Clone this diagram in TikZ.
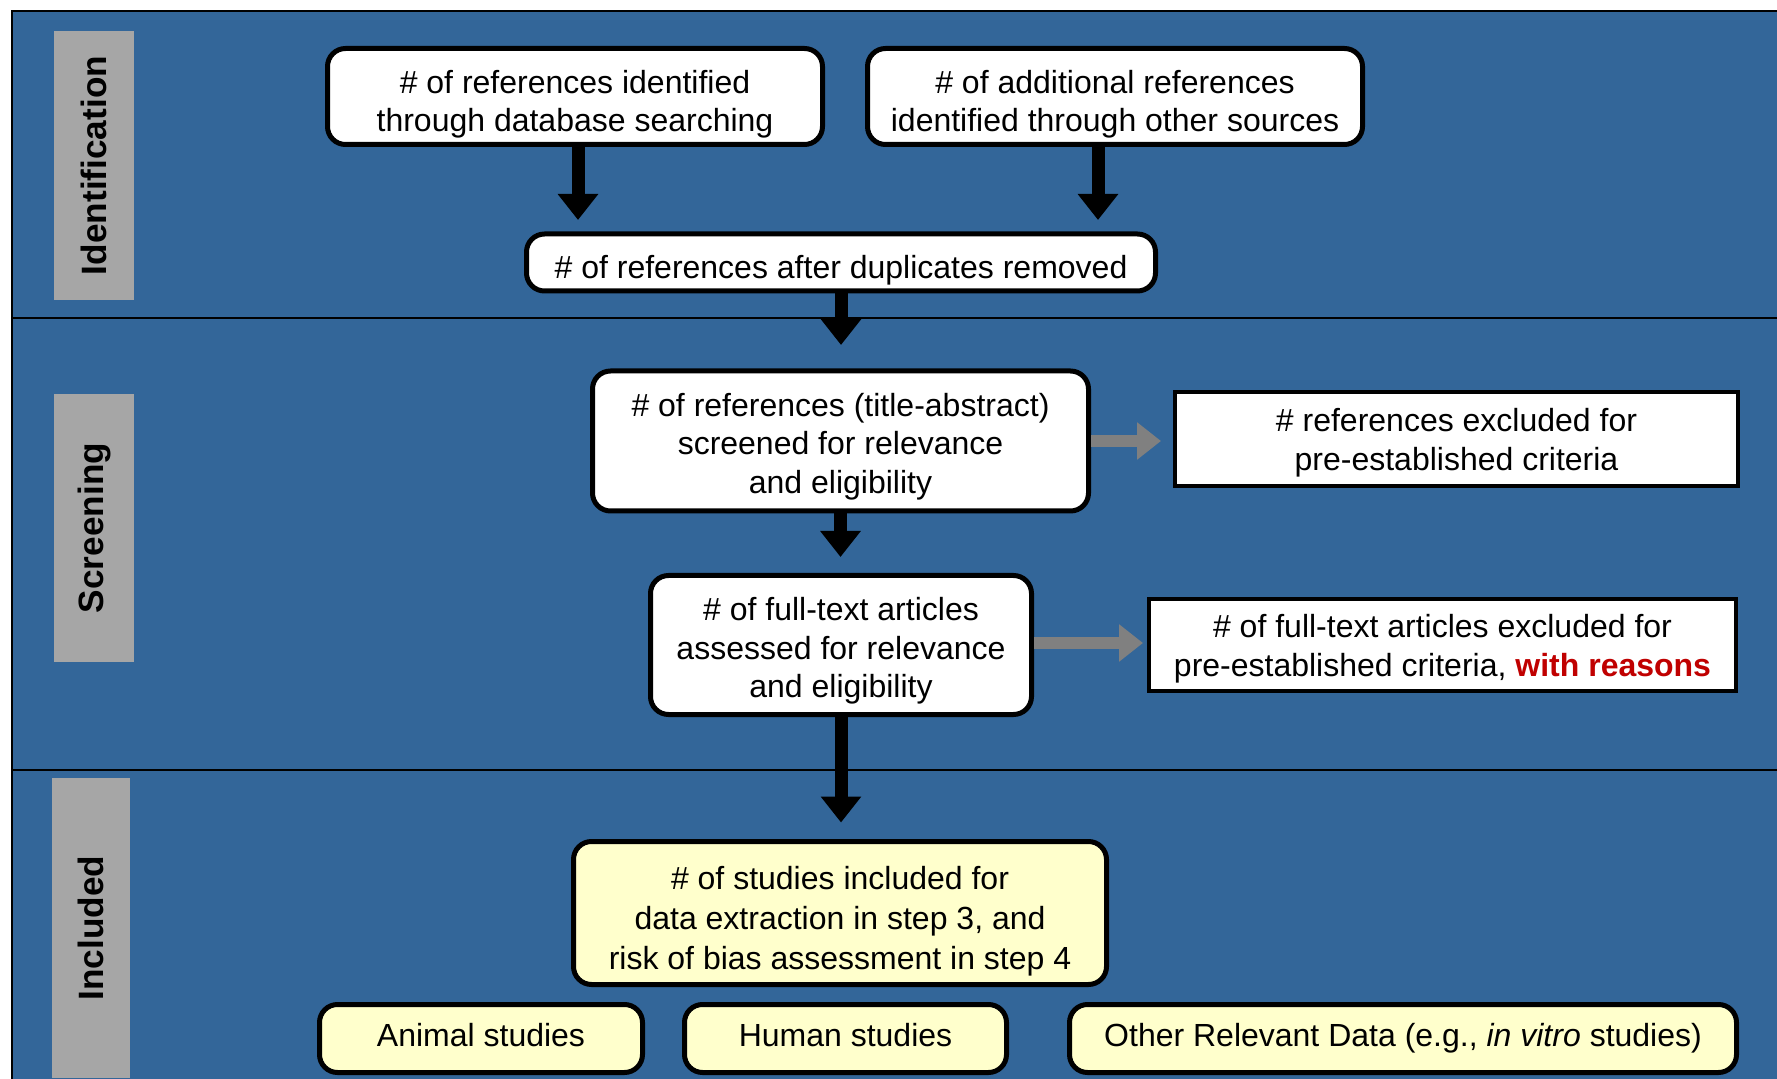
\documentclass[tikz,border=0pt]{standalone}
\usepackage{fontspec}
\setmainfont{Liberation Sans}
\usetikzlibrary{arrows.meta}
\definecolor{bgblue}{HTML}{336699}
\definecolor{lblgray}{HTML}{A6A6A6}
\definecolor{paleyellow}{HTML}{FFFFCC}
\definecolor{darkred}{HTML}{C00000}
\definecolor{arrgray}{HTML}{808080}
\newcommand\myTop{\rule{0pt}{18pt}}
\newcommand\hiTop{\rule{0pt}{20pt}}
\newcommand\sqTop{\rule{0pt}{16pt}}
\newcommand\myBot{\rule[-4pt]{0pt}{4pt}}
\begin{document}
\begin{tikzpicture}[x=0.5pt,y=-0.5pt,
  txt/.style={align=center, inner sep=0pt, font=\fontsize{16}{19.2}\selectfont},
  rbox/.style={txt, draw=black, line width=2.5pt, rounded corners=9pt, fill=white},
  ybox/.style={rbox, fill=paleyellow},
  sbox/.style={txt, draw=black, line width=2pt, fill=white},
  lbl/.style={fill=lblgray, inner sep=0pt, rotate=90, font=\fontsize{17.6}{20}\selectfont\bfseries},
  bigarrow/.style={draw=black, line width=6.5pt, -{Triangle[width=19.5pt,length=13pt]}},
  grayarrow/.style={draw=arrgray, line width=6pt, -{Triangle[width=18pt,length=12pt]}},
  divider/.style={draw=black, line width=1pt}
]
\useasboundingbox (0,0) rectangle (1777,1079);
\clip (0,0) rectangle (1777,1079);
\fill[bgblue] (12,11) rectangle (1800,1100);
\draw[line width=0.75pt] (12,1100) -- (12,11) -- (1800,11);
\draw[divider] (12,318) -- (1790,318);
\draw[divider] (12,770) -- (1790,770);

% stage labels
\node[lbl, minimum width=134.5pt, minimum height=40pt] (lid) at (94,165.5) {Identification};
\node[lbl, minimum width=134pt, minimum height=40pt] (lscr) at (94,528) {Screening};
\node[lbl, minimum width=150pt, minimum height=39pt] (linc) at (91,928) {Included};

% boxes
\node[rbox, minimum width=247.5pt, minimum height=48pt] (A) at (575,96.5)
  {\hiTop\# of references identified\\through database searching\myBot};
\node[rbox, minimum width=247.5pt, minimum height=48pt] (B) at (1115,96.5)
  {\hiTop\# of additional references\\identified through other sources\myBot};
\node[rbox, minimum width=314.5pt, minimum height=28.5pt] (C) at (841,262.5)
  {\hiTop\# of references after duplicates removed\myBot};
\node[rbox, minimum width=248pt, minimum height=70pt] (D) at (840.5,441)
  {\myTop\# of references (title-abstract)\\screened for relevance\\and eligibility\myBot};
\node[sbox, minimum width=281.5pt, minimum height=47pt] (E) at (1456.5,439)
  {\sqTop\# references excluded for\\pre-established criteria\myBot};
\node[rbox, minimum width=190.5pt, minimum height=69.5pt] (F) at (841,645)
  {\myTop\# of full-text articles\\assessed for relevance\\and eligibility\myBot};
\node[sbox, minimum width=293.5pt, minimum height=46pt] (G) at (1442.5,645)
  {\sqTop\# of full-text articles excluded for\\pre-established criteria, \textcolor{darkred}{\bfseries with reasons}\myBot};
\node[ybox, minimum width=266.5pt, minimum height=71.5pt, font=\fontsize{16}{20}\selectfont] (H) at (840,913)
  {\hiTop\# of studies included for\\data extraction in step 3, and\\risk of bias assessment in step 4\myBot};
\node[ybox, minimum width=161.5pt, minimum height=34pt, text height=12pt, text depth=4pt] (I) at (481,1038.5) {Animal studies};
\node[ybox, minimum width=161pt, minimum height=34pt, text height=12pt, text depth=4pt] (J) at (845.5,1038.5) {Human studies};
\node[ybox, minimum width=333.5pt, minimum height=34pt, text height=12pt, text depth=4pt] (K) at (1403,1038.5)
  {Other Relevant Data (e.g., \textit{in vitro} studies)};

% arrows
\draw[bigarrow, shorten >=5.75pt] ([xshift=1.5pt]A.south) -- ([xshift=1.5pt]A.south |- C.north);
\draw[bigarrow, shorten >=5.75pt] ([xshift=-8.5pt]B.south) -- ([xshift=-8.5pt]B.south |- C.north);
\draw[bigarrow, shorten >=11.75pt] (C.south) -- (C.south |- D.north);
\draw[bigarrow, shorten >=8pt] (D.south) -- (D.south |- F.north);
\draw[bigarrow, shorten >=8.25pt] (F.south) -- (F.south |- H.north);
\draw[grayarrow, shorten >=6pt] (D.east) -- (D.east -| E.west);
\draw[grayarrow, shorten >=2pt] ([yshift=1pt]F.east) -- ([yshift=1pt]F.east -| G.west);
\end{tikzpicture}
\end{document}
